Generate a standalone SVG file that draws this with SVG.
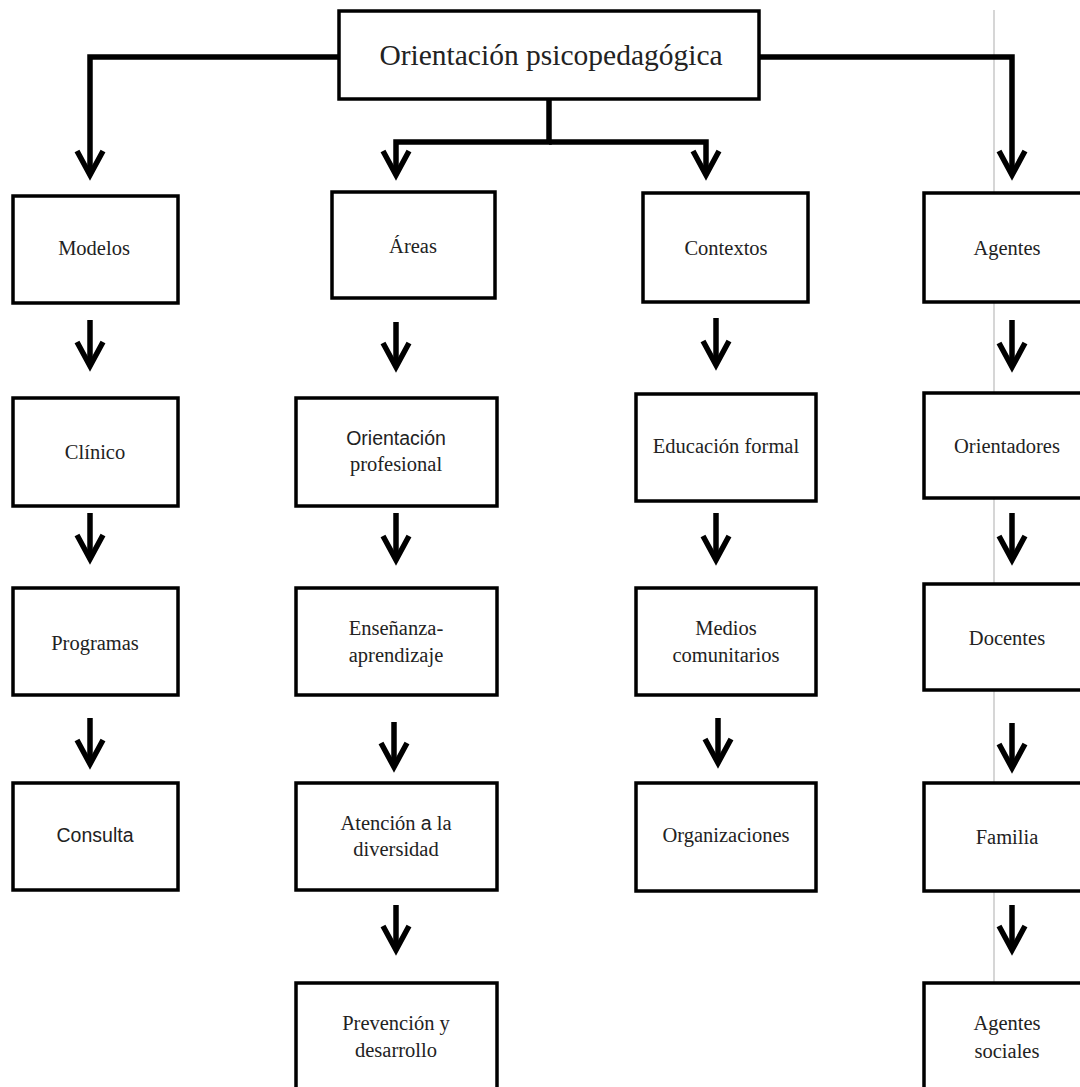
<svg xmlns="http://www.w3.org/2000/svg" width="1080" height="1087" viewBox="0 0 1080 1087">
<style>
.box{fill:#fff;stroke:#000;stroke-width:3.5}
.t{font-family:"Liberation Serif","Times New Roman",serif;font-size:20.5px;fill:#222;text-anchor:middle;dominant-baseline:central}
.s{font-family:"Liberation Sans",Arial,sans-serif;font-size:19.5px}
.c{fill:none;stroke:#000;stroke-width:5.5;stroke-linejoin:miter}
</style>
<defs>
<marker id="ah" markerUnits="userSpaceOnUse" markerWidth="40" markerHeight="40" viewBox="-30 -20 40 40" refX="0" refY="0" orient="auto" overflow="visible">
<path d="M-24,-13 L0,0 L-24,13" fill="none" stroke="#000" stroke-width="5.5" stroke-linejoin="miter"/>
</marker>
</defs>
<rect width="1080" height="1087" fill="#fff"/>
<line x1="994" y1="10" x2="994" y2="1087" stroke="#c8c8c8" stroke-width="1.5"/>
<g id="connectors">
<path class="c" d="M339,57 H90 V175" marker-end="url(#ah)"/>
<path class="c" d="M759,57 H1012 V175" marker-end="url(#ah)"/>
<path class="c" d="M549,98 V142 H396 V175" marker-end="url(#ah)"/>
<path class="c" d="M549,142 H706 V175" marker-end="url(#ah)"/>
<path class="c" d="M90,320 V366" marker-end="url(#ah)"/>
<path class="c" d="M90,513 V559" marker-end="url(#ah)"/>
<path class="c" d="M90,718 V764" marker-end="url(#ah)"/>
<path class="c" d="M396,322 V367" marker-end="url(#ah)"/>
<path class="c" d="M396,513 V560" marker-end="url(#ah)"/>
<path class="c" d="M394,722 V767" marker-end="url(#ah)"/>
<path class="c" d="M396,905 V950" marker-end="url(#ah)"/>
<path class="c" d="M716,318 V365" marker-end="url(#ah)"/>
<path class="c" d="M716,513 V560" marker-end="url(#ah)"/>
<path class="c" d="M718,718 V763" marker-end="url(#ah)"/>
<path class="c" d="M1012,320 V367" marker-end="url(#ah)"/>
<path class="c" d="M1012,513 V560" marker-end="url(#ah)"/>
<path class="c" d="M1012,723 V768" marker-end="url(#ah)"/>
<path class="c" d="M1012,905 V950" marker-end="url(#ah)"/>
</g>
<g id="n-root"><rect class="box" x="339" y="11" width="420" height="88"/><text class="t" x="551" y="55" style="font-size:29.5px">Orientación psicopedagógica</text></g>
<g id="n-modelos"><rect class="box" x="13" y="196" width="165" height="107"/><text class="t" x="94" y="248">Modelos</text></g>
<g id="n-areas"><rect class="box" x="332" y="192" width="163" height="106"/><text class="t" x="413" y="246">Áreas</text></g>
<g id="n-contextos"><rect class="box" x="643" y="193" width="165" height="109"/><text class="t" x="726" y="248">Contextos</text></g>
<g id="n-agentes"><rect class="box" x="924" y="193" width="166" height="109"/><text class="t" x="1007" y="248">Agentes</text></g>
<g id="n-clinico"><rect class="box" x="13" y="398" width="165" height="108"/><text class="t" x="95" y="452">Clínico</text></g>
<g id="n-orprof"><rect class="box" x="296" y="398" width="201" height="108"/><text class="t" x="396" y="438"><tspan class="s">Orientación</tspan></text><text class="t" x="396" y="464">profesional</text></g>
<g id="n-educacion"><rect class="box" x="636" y="394" width="180" height="107"/><text class="t" x="726" y="446">Educación formal</text></g>
<g id="n-orientadores"><rect class="box" x="924" y="393" width="166" height="105"/><text class="t" x="1007" y="446">Orientadores</text></g>
<g id="n-programas"><rect class="box" x="13" y="588" width="165" height="107"/><text class="t" x="95" y="643">Programas</text></g>
<g id="n-ensenanza"><rect class="box" x="296" y="588" width="201" height="107"/><text class="t" x="396" y="628">Enseñanza-</text><text class="t" x="396" y="655">aprendizaje</text></g>
<g id="n-medios"><rect class="box" x="636" y="588" width="180" height="107"/><text class="t" x="726" y="628">Medios</text><text class="t" x="726" y="655">comunitarios</text></g>
<g id="n-docentes"><rect class="box" x="924" y="584" width="166" height="106"/><text class="t" x="1007" y="638">Docentes</text></g>
<g id="n-consulta"><rect class="box" x="13" y="783" width="165" height="107"/><text class="t s" x="95" y="835">Consulta</text></g>
<g id="n-atencion"><rect class="box" x="296" y="783" width="201" height="107"/><text class="t" x="396" y="823">Atención <tspan class="s">a</tspan> la</text><text class="t" x="396" y="849">diversidad</text></g>
<g id="n-organizaciones"><rect class="box" x="636" y="783" width="180" height="108"/><text class="t" x="726" y="835">Organizaciones</text></g>
<g id="n-familia"><rect class="box" x="924" y="783" width="166" height="108"/><text class="t" x="1007" y="837">Familia</text></g>
<g id="n-prevencion"><rect class="box" x="296" y="983" width="201" height="115"/><text class="t" x="396" y="1023">Prevención y</text><text class="t" x="396" y="1050">desarrollo</text></g>
<g id="n-agsociales"><rect class="box" x="924" y="983" width="166" height="115"/><text class="t" x="1007" y="1023">Agentes</text><text class="t" x="1007" y="1051">sociales</text></g>
</svg>
